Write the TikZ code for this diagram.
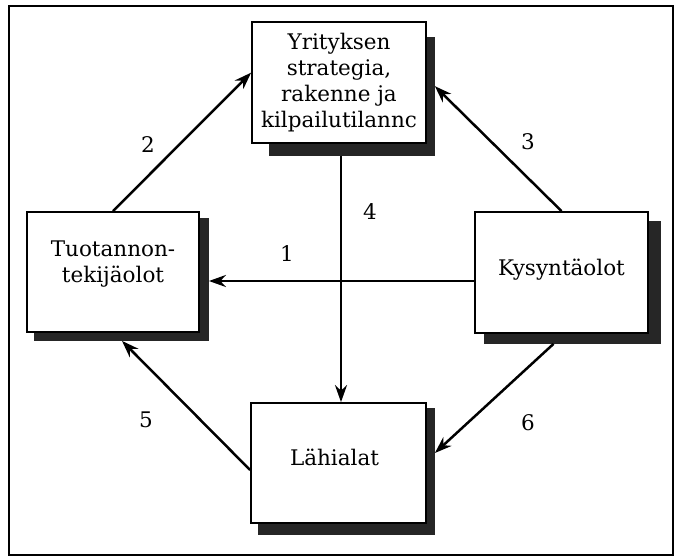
\documentclass[tikz,border=0pt]{standalone}
\usepackage{fontspec}
\setmainfont{DejaVu Serif}
\usetikzlibrary{arrows.meta,calc,backgrounds}
\begin{document}
\begin{tikzpicture}[x=1pt,y=-1pt,
  font=\fontsize{21.5}{26}\selectfont,
  box/.style={draw, fill=white, line width=1.8pt, inner sep=0pt, align=center},
  shade/.style={fill=black!85},
  arr/.style={line width=2.5pt, -{Stealth[length=17pt,width=12pt]}},
  num/.style={inner sep=0pt}]
\useasboundingbox (0,0) rectangle (675,557);
\draw[line width=2pt] (9,6) rectangle (673,555);

% the four boxes
\node[box, minimum width=174pt, minimum height=121pt] (T) at (339,82.5)
  {Yrityksen\\strategia,\\rakenne ja\\kilpailutilannc};
\node[box, minimum width=172pt, minimum height=120pt] (L) at (113,272) {};
\node[align=center, inner sep=0pt] (Lt) at ($(L)+(0,-8)$) {Tuotannon-\\tekijäolot};
\node[box, minimum width=173pt, minimum height=121pt] (R) at (561.5,272.5) {};
\node[inner sep=0pt] (Rt) at ($(R)+(0,-3)$) {Kysyntäolot};
\node[box, minimum width=175pt, minimum height=120pt] (B) at (338.5,463) {};
\node[inner sep=0pt] (Bt) at ($(B)+(-4,-6)$) {Lähialat};

% drop shadows behind the boxes
\begin{scope}[on background layer]
  \fill[shade] ($(T.south west)+(18,12)$) rectangle ($(T.north east)+(8,16)$);
  \fill[shade] ($(L.south west)+(8,8)$) rectangle ($(L.north east)+(9,7)$);
  \fill[shade] ($(R.south west)+(10,10)$) rectangle ($(R.north east)+(12,10)$);
  \fill[shade] ($(B.south west)+(8,11)$) rectangle ($(B.north east)+(8,6)$);
\end{scope}

% shadow edges where arrows land
\coordinate (Lse) at ($(L.south east)+(9,8)$);
\coordinate (c4) at ($(T.south)+(2,12)$);

% connectors
\draw[arr] ($(R.west)+(0,8.5)$) coordinate (r1) -- (r1 -| Lse);
\draw[arr] (L.north) -- ($(T.north west)!0.42!(T.south west)$);
\draw[arr] (R.north) -- ($(T.north east)!0.53!(T.south east)+(8,0)$);
\draw[arr] (c4) -- (c4 |- B.north);
\draw[arr] ($(B.west)+(0,7)$) -- ($(L.south)+(9,8)$);
\draw[arr] ($(R.south)+(-8,10)$) -- ($(B.east)+(8,-10)$);

% connector numbers
\node[num] (n1) at (287,254) {1};
\node[num] (n2) at (148,145) {2};
\node[num] (n3) at (528,142) {3};
\node[num] (n4) at (370,212) {4};
\node[num] (n5) at (146,420) {5};
\node[num] (n6) at (528,423) {6};
\end{tikzpicture}
\end{document}
